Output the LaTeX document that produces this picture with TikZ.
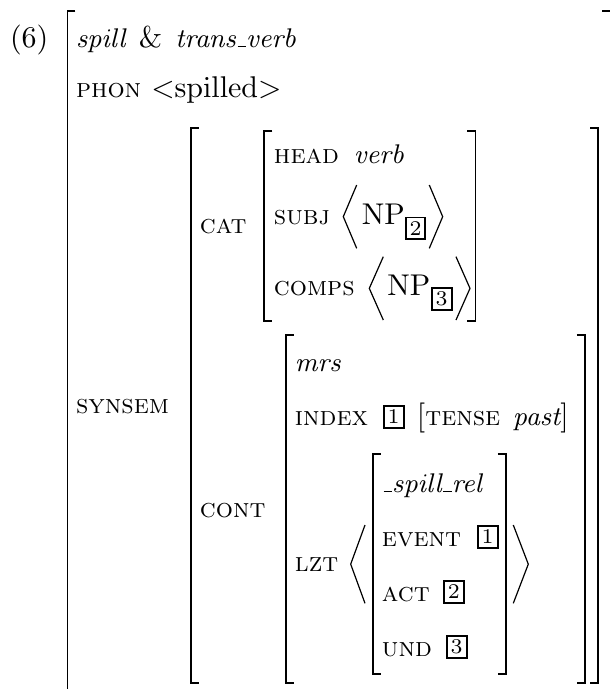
\documentclass[tikz,border=0pt]{standalone}
\usepackage[OT1]{fontenc}
\renewcommand{\rmdefault}{cmr}
% attribute names in small capitals, types and values in italics
\newcommand{\attr}[1]{{\fontsize{9.5pt}{11pt}\selectfont\scshape #1}}
\newcommand{\val}[1]{{\fontsize{9.5pt}{11pt}\selectfont\itshape #1}}
\begin{document}
\begin{tikzpicture}[
  x=0.33333pt, y=-0.33333pt,
  txt/.style={anchor=base west, inner sep=0pt, outer sep=0pt},
  brk/.style={line width=0.6pt, line cap=butt, line join=miter},
  ang/.style={line width=0.4pt, line join=miter},
  tagbox/.style={draw, line width=0.65pt, minimum width=6.6pt, minimum height=7.2pt,
                 inner sep=0pt, font=\scriptsize},
]
\useasboundingbox (0,0) rectangle (610,689);

% square brackets: left at xl, right at xr, from yt to yb
\newcommand{\avmbox}[4]{%
  \draw[brk] (#1+8,#3) -- (#1,#3) -- (#1,#4) -- (#1+8,#4);
  \draw[brk] (#2-8,#3) -- (#2,#3) -- (#2,#4) -- (#2-8,#4);}
% angle brackets: outer x, inner x, top, bottom
\newcommand{\avmangle}[4]{%
  \draw[ang] (#2,#3) -- (#1,{(#3+#4)/2}) -- (#2,#4);}

% outermost matrix
\avmbox{67.5}{610.5}{10.7}{705}
\node[txt] (ex)   at (10,47) {(6)};
\node[txt] (type) at (76,47) {\val{spill}\hspace{4.4pt}\&\hspace{4.4pt}\val{trans\_verb}};
\node[txt] (phon) at (76,97) {\attr{phon} $<$spilled$>$};
\node[txt] (synsem) at (76,413) {\attr{synsem}};

% SYNSEM value
\avmbox{190.7}{598.3}{128.3}{682.7}
\node[txt] (cat)  at (200,233) {\attr{cat}};
\node[txt] (cont) at (200,517) {\attr{cont}};

% CAT value
\avmbox{264.3}{475.5}{130.7}{320.7}
\node[txt] (head) at (274,163) {\attr{head}};
\node[txt] (verb) at (354,163) {\val{verb}};
\node[txt] (subj) at (274,224) {\attr{subj}};
\avmangle{343.3}{356.7}{185}{248.3}
\node[txt] (np2) at (362,224) {NP};
\node[tagbox] (t2a) at (415.5,228.3) {2};
\avmangle{442.7}{429.3}{185}{248.3}
\node[txt] (comps) at (274,295) {\attr{comps}};
\avmangle{369.3}{383.3}{256.7}{320}
\node[txt] (np3) at (387.3,295) {NP};
\node[tagbox] (t3a) at (441.7,299) {3};
\avmangle{470}{456}{256.7}{320}

% CONT value
\avmbox{285.7}{585}{335}{682.7}
\node[txt] (mrs)   at (295,371) {\val{mrs}};
\node[txt] (index) at (295,425) {\attr{index}};
\node[tagbox] (t1a) at (393.7,416.8) {1};
\node[txt] (tense) at (417,425) {[\attr{tense}};
\node[txt] (past)  at (513,425) {\val{past}]};
\node[txt] (lzt)   at (295,571) {\attr{lzt}};

% LZT list element
\avmangle{350.7}{365}{525}{603.3}
\avmbox{372.7}{506}{454}{674.3}
\avmangle{528.3}{513.3}{525}{603.3}
\node[txt] (rel)   at (382,492) {\val{\_spill\_rel}};
\node[txt] (event) at (382,546) {\attr{event}};
\node[tagbox] (t1b) at (487.7,537.2) {1};
\node[txt] (act)   at (382,601) {\attr{act}};
\node[tagbox] (t2b) at (453.8,591.8) {2};
\node[txt] (und)   at (382,656) {\attr{und}};
\node[tagbox] (t3b) at (456.7,647.2) {3};
\end{tikzpicture}
\end{document}
